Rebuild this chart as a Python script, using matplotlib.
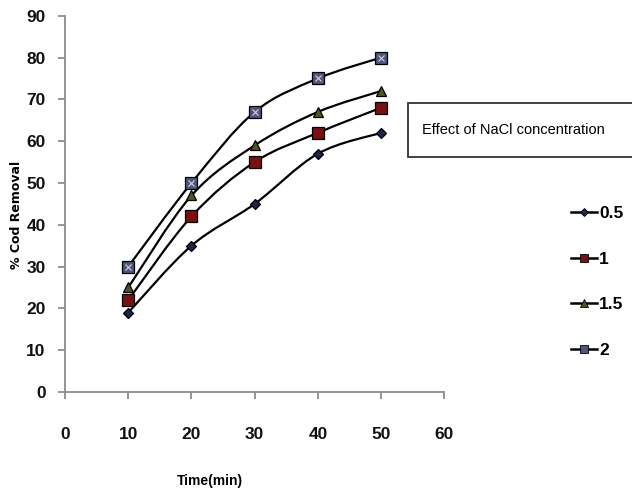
import matplotlib
matplotlib.use("Agg")
import matplotlib.pyplot as plt
from matplotlib.path import Path
from matplotlib.patches import PathPatch, Rectangle
from matplotlib.lines import Line2D
import numpy as np

time = [10, 20, 30, 40, 50]
s05 = [19, 35, 45, 57, 62]
s1 = [22, 42, 55, 62, 68]
s15 = [25, 47, 59, 67, 72]
s2 = [30, 50, 67, 75, 80]
labels = ["0.5", "1", "1.5", "2"]
series = [s05, s1, s15, s2]
markers = ["D", "s", "^", "s"]
mfc = ["#1c2550", "#7a1010", "#4b5a1a", "#50557a"]
msizes = [5, 8, 7, 8]

plt.rcParams['font.family'] = ["Liberation Sans", "DejaVu Sans"]

fig = plt.figure(figsize=(6.32, 4.93), dpi=100)
ax = fig.add_axes([0.103, 0.205, 0.60, 0.763])


def smooth_path(x, y, t=0.5):
    x = np.asarray(x, float); y = np.asarray(y, float)
    verts = [(x[0], y[0])]
    codes = [Path.MOVETO]
    n = len(x)
    for i in range(n - 1):
        x0, y0 = (x[i - 1], y[i - 1]) if i > 0 else (x[i], y[i])
        x3, y3 = (x[i + 2], y[i + 2]) if i + 2 < n else (x[i + 1], y[i + 1])
        c1 = (x[i] + (x[i + 1] - x0) * t / 3, y[i] + (y[i + 1] - y0) * t / 3)
        c2 = (x[i + 1] - (x3 - x[i]) * t / 3, y[i + 1] - (y3 - y[i]) * t / 3)
        verts += [c1, c2, (x[i + 1], y[i + 1])]
        codes += [Path.CURVE4] * 3
    return Path(verts, codes)


handles = []
for ys, m, fc, ms, lab in zip(series, markers, mfc, msizes, labels):
    ax.add_patch(PathPatch(smooth_path(time, ys), facecolor='none', edgecolor='black', lw=1.6, zorder=2))
    ax.plot(time, ys, linestyle='none', marker=m, markersize=ms, markerfacecolor=fc,
            markeredgecolor='black', markeredgewidth=0.9, zorder=3)
    h = Line2D([], [], color='black', lw=1.8, marker=m, markersize=ms * 0.75,
               markerfacecolor=fc, markeredgecolor='black', markeredgewidth=0.6, label=lab)
    handles.append(h)
# X marks inside the "2" squares
ax.plot(time, s2, linestyle='none', marker='x', markersize=5, markeredgecolor='#d0d0e0',
        markeredgewidth=0.8, zorder=4)

ax.set_xlim(0, 60)
ax.set_ylim(0, 90)
ax.set_xticks(range(0, 61, 10))
ax.set_yticks(range(0, 91, 10))
for s in ['top', 'right']:
    ax.spines[s].set_visible(False)
for s in ['left', 'bottom']:
    ax.spines[s].set_color('#8c8c8c')
    ax.spines[s].set_linewidth(1.3)
ax.tick_params(axis='both', direction='out', color='#8c8c8c', width=1.3, length=5,
               labelsize=12.5, labelcolor='#111111')
ax.tick_params(axis='x', pad=20)
ax.tick_params(axis='y', pad=9)
for lbl in ax.get_xticklabels() + ax.get_yticklabels():
    lbl.set_fontweight('bold')

ax.set_xlabel("Time(min)", fontsize=10, fontweight='bold', va='center')
ax.xaxis.set_label_coords(0.383, -0.238)
ax.set_ylabel("% Cod Removal", fontsize=9, fontweight='bold', family='DejaVu Sans', va='center')
ax.yaxis.set_label_coords(-0.127, 0.47)

# legend title box (extends past the right edge as in the reference)
fig.add_artist(Rectangle((0.646, 1 - 157 / 493), 0.5, 54 / 493, transform=fig.transFigure,
                         facecolor='white', edgecolor='#333333', lw=1.3, clip_on=False))
fig.text(0.668, 1 - 130 / 493, "Effect of NaCl concentration", fontsize=10.5, va='center', ha='left')

leg = fig.legend(handles=handles, loc='upper left', bbox_to_anchor=(0.892, 0.596), frameon=False,
                 fontsize=12.5, handlelength=1.5, handletextpad=0.15, labelspacing=1.75,
                 borderaxespad=0)
for t in leg.get_texts():
    t.set_fontweight('bold')

fig.savefig("out.png", dpi=100)
